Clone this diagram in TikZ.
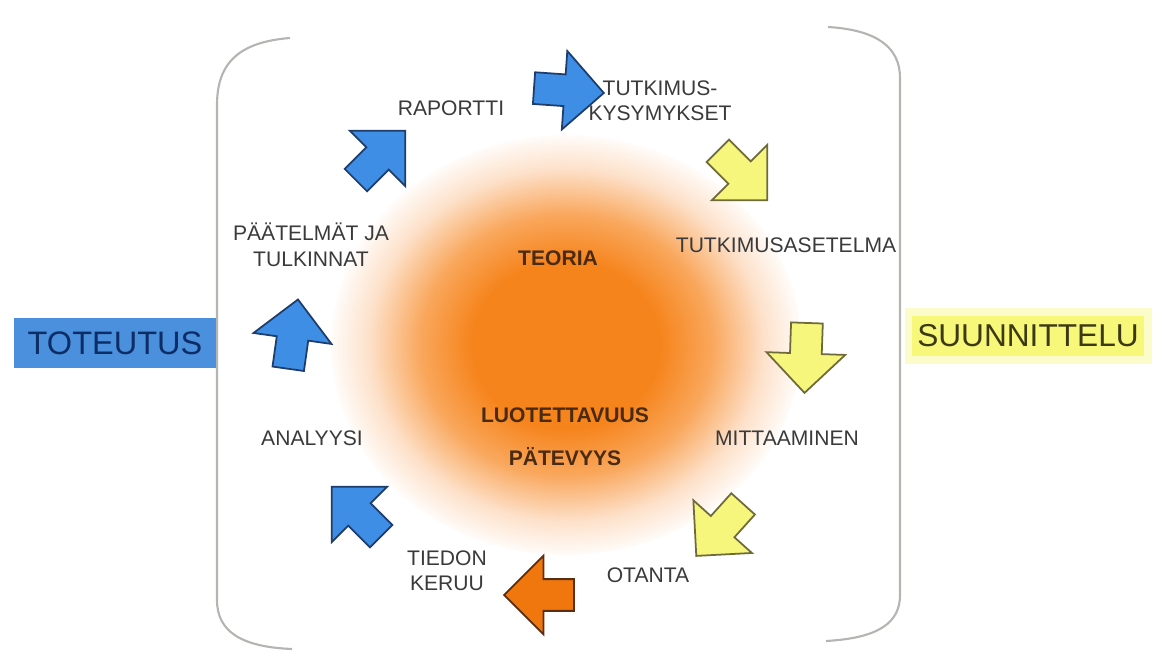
\documentclass[tikz,border=0pt]{standalone}
\usepackage{fontspec}
\setmainfont{Liberation Sans}
\usepackage{tikz}
\usetikzlibrary{shapes.arrows, positioning}

\definecolor{arrowblue}{HTML}{3E8EE6}
\definecolor{edgeblue}{HTML}{1E3D6B}
\definecolor{arrowyellow}{HTML}{F6F57C}
\definecolor{edgeyellow}{HTML}{6E6A3A}
\definecolor{arroworange}{HTML}{F0760E}
\definecolor{edgeorange}{HTML}{5A2E10}
\definecolor{glowcore}{HTML}{F6841C}
\definecolor{glowmid}{HTML}{F9A75C}
\definecolor{glowlight}{HTML}{FDE1CA}
\definecolor{labelgray}{HTML}{3A3A3A}
\definecolor{coretext}{HTML}{4A2A12}
\definecolor{bracketgray}{HTML}{B4B4B0}
\definecolor{toteutusblue}{HTML}{4A90DC}
\definecolor{toteutustext}{HTML}{0E2C66}
\definecolor{suunnyellow}{HTML}{F7F77A}
\definecolor{suunntext}{HTML}{3C3A14}

\pgfdeclareradialshading{glowshade}{\pgfpoint{0bp}{0bp}}{color(0bp)=(glowcore); color(10bp)=(glowcore); color(15.5bp)=(glowmid); color(21bp)=(glowlight); color(25.5bp)=(white); color(50bp)=(white)}

\tikzset{
	blockarrow/.style={single arrow, draw, line width=1pt, inner xsep=0pt, inner ysep=0.3cm, minimum height=1.4cm, single arrow head extend=0.47cm},
	bluearrow/.style={blockarrow, fill=arrowblue, draw=edgeblue},
	yellowarrow/.style={blockarrow, fill=arrowyellow, draw=edgeyellow},
	orangearrow/.style={blockarrow, fill=arroworange, draw=edgeorange},
	steplabel/.style={text=labelgray, font=\fontsize{12}{14.5}\selectfont, align=center, inner sep=1pt},
	corelabel/.style={text=coretext, font=\fontsize{12}{14.5}\selectfont\bfseries, inner sep=1pt},
	bracket/.style={draw=bracketgray, line width=1.2pt}
}

\begin{document}
\begin{tikzpicture}[x=0.02cm, y=-0.02cm]
		\useasboundingbox (0,0) rectangle (1163,651);
		\shade[shading=glowshade] (566,345) ellipse [x radius=4.7cm, y radius=4.2cm];
		\draw[bracket] (290,38) .. controls (240,42) and (217,62) .. (217,105) -- (217,600) .. controls (217,632) and (242,647) .. (292,649);
		\draw[bracket] (828,27) .. controls (878,30) and (900,48) .. (900,78) -- (900,595) .. controls (900,622) and (880,638) .. (826,641);
		\node[fill=toteutusblue, text=toteutustext, font=\fontsize{18.5}{20}\selectfont, minimum width=4.04cm, minimum height=1cm] (toteutus) at (115,343) {TOTEUTUS};
		\node[fill=suunnyellow, draw=suunnyellow!40, line width=4pt, text=suunntext, font=\fontsize{18}{20}\selectfont, minimum width=4.8cm, minimum height=0.96cm] (suunnittelu) at (1028,336) {SUUNNITTELU};
		\node[bluearrow, rotate=-4] (toquestions) at (561,90) {};
		\node[bluearrow, rotate=45] (toreport) at (375,161) {};
		\node[yellowarrow, rotate=-45] (todesign) at (737,170) {};
		\node[yellowarrow, rotate=-92] (tomeasure) at (806,350) {};
		\node[yellowarrow, rotate=-132] (tosample) at (725,524) {};
		\node[orangearrow, rotate=180] (tocollect) at (547,595) {};
		\node[bluearrow, rotate=135] (toanalysis) at (362,517) {};
		\node[bluearrow, rotate=82] (toconclusions) at (292,342) {};
		\node[steplabel] (report) at (451,108) {RAPORTTI};
		\node[steplabel] (questions) at (660,101) {TUTKIMUS-\\KYSYMYKSET};
		\node[steplabel] (design) at (786,245) {TUTKIMUSASETELMA};
		\node[steplabel] (measure) at (787,438) {MITTAAMINEN};
		\node[steplabel] (sample) at (648,575) {OTANTA};
		\node[steplabel] (collect) at (447,571) {TIEDON\\KERUU};
		\node[steplabel] (analysis) at (312,438) {ANALYYSI};
		\node[steplabel] (conclusions) at (311,245) {PÄÄTELMÄT JA\\TULKINNAT};
		\node[corelabel] (theory) at (558,258) {TEORIA};
		\node[corelabel] (reliability) at (565,415) {LUOTETTAVUUS};
		\node[corelabel, below=0.84cm of reliability.center, anchor=center] (validity) {PÄTEVYYS};
	\end{tikzpicture}
\end{document}
